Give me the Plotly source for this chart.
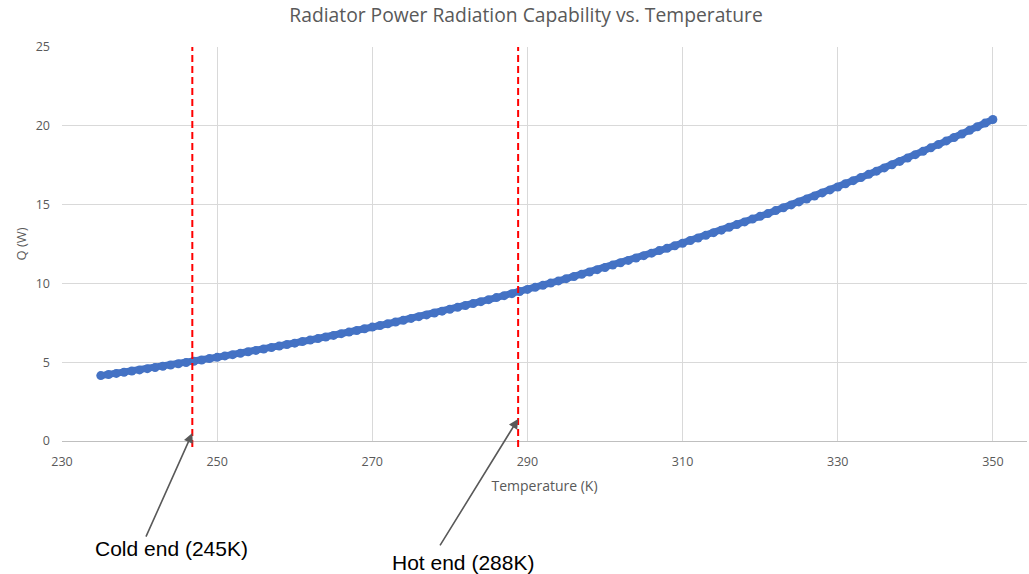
import plotly.graph_objects as go

# Temperature (K) samples and radiated power Q (W)
temperature_k = list(range(235, 351))
q_watts = [
    4.15, 4.22, 4.29, 4.36, 4.44, 4.51, 4.59, 4.66, 4.74, 4.82,
    4.90, 4.98, 5.06, 5.14, 5.23, 5.31, 5.40, 5.48, 5.57, 5.66,
    5.75, 5.84, 5.93, 6.02, 6.12, 6.21, 6.31, 6.41, 6.50, 6.60,
    6.70, 6.81, 6.91, 7.01, 7.12, 7.23, 7.33, 7.44, 7.55, 7.66,
    7.78, 7.89, 8.00, 8.12, 8.24, 8.36, 8.48, 8.60, 8.72, 8.84,
    8.97, 9.10, 9.22, 9.35, 9.48, 9.62, 9.75, 9.88, 10.02, 10.16,
    10.30, 10.44, 10.58, 10.72, 10.87, 11.01, 11.16, 11.31, 11.46, 11.61,
    11.76, 11.92, 12.08, 12.23, 12.39, 12.55, 12.72, 12.88, 13.05, 13.22,
    13.38, 13.56, 13.73, 13.90, 14.08, 14.26, 14.43, 14.62, 14.80, 14.98,
    15.17, 15.35, 15.54, 15.74, 15.93, 16.12, 16.32, 16.52, 16.72, 16.92,
    17.12, 17.33, 17.53, 17.74, 17.95, 18.17, 18.38, 18.60, 18.82, 19.04,
    19.26, 19.48, 19.71, 19.94, 20.17, 20.40,
]

# Reference temperatures marked by the dashed lines
cold_end_x = 246.8
hot_end_x = 288.8
cold_label = "Cold end (245K)"
hot_label = "Hot end (288K)"

x_ticks = [230, 250, 270, 290, 310, 330, 350]
y_ticks = [0, 5, 10, 15, 20, 25]

gray = "#595959"
grid = "#d9d9d9"
blue = "#4472C4"

fig = go.Figure()
fig.add_trace(go.Scatter(
    x=temperature_k, y=q_watts, mode="lines+markers",
    line=dict(color=blue, width=7),
    marker=dict(color=blue, size=9, line=dict(width=0)),
    showlegend=False,
))

for xv in (cold_end_x, hot_end_x):
    fig.add_shape(type="line", xref="x", yref="paper",
                  x0=xv, x1=xv, y0=-0.015, y1=1.0,
                  line=dict(color="#FF0000", width=2, dash="7px,4px"))

fig.update_layout(
    width=1029, height=574,
    margin=dict(l=62, r=2, t=47, b=133),
    paper_bgcolor="white", plot_bgcolor="white",
    font=dict(family="Open Sans, sans-serif", color=gray),
    title=dict(text="Radiator Power Radiation Capability vs. Temperature",
               x=0.5112, xanchor="center", y=0.973, yanchor="middle",
               font=dict(size=19.3, color=gray)),
    xaxis=dict(range=[230, 354.4], tickvals=x_ticks, ticktext=[str(v) for v in x_ticks],
               showgrid=True, gridcolor=grid, gridwidth=1,
               showline=True, linecolor="#bfbfbf", linewidth=1,
               zeroline=False, ticks="", ticklabelstandoff=9,
               tickfont=dict(size=12.5, color=gray),
               title=dict(text="Temperature (K)", font=dict(size=14, color=gray), standoff=12)),
    yaxis=dict(range=[0, 25], tickvals=y_ticks, ticktext=[str(v) for v in y_ticks],
               showgrid=True, gridcolor=grid, gridwidth=1,
               showline=False, zeroline=False, ticks="", ticklabelstandoff=11,
               tickfont=dict(size=12.5, color=gray),
               title=dict(text="Q (W)", font=dict(size=13, color=gray), standoff=6)),
)

# Arrows
fig.add_annotation(x=cold_end_x, y=0.5, xref="x", yref="y", text="",
                   showarrow=True, arrowhead=2, arrowsize=1.2, arrowwidth=1.6,
                   arrowcolor=gray, ax=-47, ay=105, standoff=0)
fig.add_annotation(x=hot_end_x, y=1.4, xref="x", yref="y", text="",
                   showarrow=True, arrowhead=2, arrowsize=1.2, arrowwidth=1.6,
                   arrowcolor=gray, ax=-79, ay=128, standoff=0)

# Labels
fig.add_annotation(x=(171 - 62) / 965, y=(441 - 548) / 394, xref="paper", yref="paper",
                   text=cold_label, showarrow=False, xanchor="center", yanchor="middle",
                   font=dict(family="Liberation Sans, Arial, sans-serif", size=21, color="black"))
fig.add_annotation(x=(463 - 62) / 965, y=(441 - 562) / 394, xref="paper", yref="paper",
                   text=hot_label, showarrow=False, xanchor="center", yanchor="middle",
                   font=dict(family="Liberation Sans, Arial, sans-serif", size=21, color="black"))

fig.write_html("out.html", config={"displayModeBar": False},
               post_script="document.body.style.margin='0px';document.body.style.overflow='hidden';")
